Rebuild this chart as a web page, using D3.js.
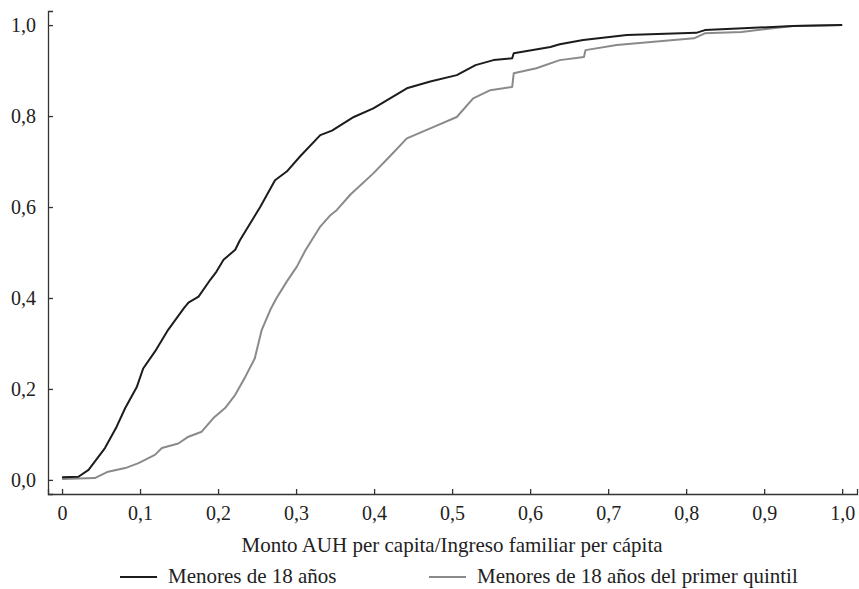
<!DOCTYPE html>
<html>
<head>
<meta charset="utf-8">
<script src="https://cdn.jsdelivr.net/npm/d3@7"></script>
<style>
  body { margin: 0; background: #fff; }
  svg text { font-family: "Liberation Serif", "Times New Roman", serif; fill: #222; }
</style>
</head>
<body>
<svg id="chart" width="859" height="589"></svg>
<script>
// curva de distribución acumulada: [monto AUH / ingreso, proporción acumulada]
const menores = [
  [0, 0.006], [0.021, 0.007], [0.034, 0.022], [0.055, 0.07], [0.07, 0.117],
  [0.081, 0.158], [0.096, 0.205], [0.104, 0.245], [0.119, 0.282], [0.136, 0.33],
  [0.156, 0.377], [0.162, 0.39], [0.175, 0.403], [0.19, 0.44], [0.198, 0.458],
  [0.207, 0.484], [0.222, 0.506], [0.228, 0.527], [0.254, 0.60], [0.273, 0.659],
  [0.288, 0.678], [0.305, 0.711], [0.331, 0.758], [0.346, 0.768], [0.374, 0.798],
  [0.399, 0.817], [0.442, 0.861], [0.472, 0.876], [0.506, 0.89], [0.53, 0.912],
  [0.553, 0.923], [0.577, 0.927], [0.579, 0.938], [0.626, 0.952], [0.638, 0.958],
  [0.668, 0.967], [0.724, 0.978], [0.813, 0.983], [0.824, 0.989], [0.873, 0.993],
  [0.937, 0.998], [1.0, 1.0]
];

const primerQuintil = [
  [0, 0.002], [0.042, 0.004], [0.059, 0.018], [0.081, 0.026], [0.098, 0.037],
  [0.119, 0.055], [0.128, 0.07], [0.149, 0.08], [0.162, 0.095], [0.179, 0.106],
  [0.194, 0.136], [0.209, 0.158], [0.222, 0.187], [0.235, 0.227], [0.247, 0.267],
  [0.256, 0.33], [0.267, 0.374], [0.275, 0.40], [0.288, 0.436], [0.301, 0.469],
  [0.312, 0.505], [0.331, 0.557], [0.344, 0.582], [0.352, 0.593], [0.370, 0.628],
  [0.399, 0.674], [0.42, 0.711], [0.442, 0.751], [0.472, 0.773], [0.506, 0.798],
  [0.527, 0.839], [0.549, 0.857], [0.577, 0.864], [0.579, 0.894], [0.608, 0.905],
  [0.638, 0.923], [0.669, 0.93], [0.671, 0.945], [0.711, 0.956], [0.81, 0.971],
  [0.824, 0.982], [0.871, 0.985], [0.937, 0.998], [1.0, 1.0]
];

const xTicks = [0, 0.1, 0.2, 0.3, 0.4, 0.5, 0.6, 0.7, 0.8, 0.9, 1.0];
const yTicks = [0, 0.2, 0.4, 0.6, 0.8, 1.0];
const series = [
  { name: "Menores de 18 años", values: menores, color: "#1c1c1c" },
  { name: "Menores de 18 años del primer quintil", values: primerQuintil, color: "#8a8a8a" }
];
const xTitle = "Monto AUH per capita/Ingreso familiar per cápita";

const svg = d3.select("#chart");
const tickSize = 20, labelSize = 21;

const locale = d3.formatLocale({ decimal: ",", thousands: ".", grouping: [3], currency: ["$", ""] });
const fmt = locale.format(".1f");

// escalas (el dominio va un poco más allá de 0 y 1, como en el original)
const x = d3.scaleLinear().domain([-0.018, 1.019]).range([48, 857]);
const y = d3.scaleLinear().domain([-0.031, 1.031]).range([494, 11]);

// ejes con marcas hacia adentro
const axisX = d3.axisBottom(x).tickValues(xTicks)
  .tickSizeInner(-5).tickSizeOuter(-5).tickPadding(12)
  .tickFormat(d => d === 0 ? "0" : fmt(d));
const axisY = d3.axisLeft(y).tickValues(yTicks)
  .tickSizeInner(-5).tickSizeOuter(-5).tickPadding(12)
  .tickFormat(fmt);

const gx = svg.append("g").attr("transform", `translate(0, ${y.range()[0]})`).call(axisX);
const gy = svg.append("g").attr("transform", `translate(${x.range()[0]}, 0)`).call(axisY);

[gx, gy].forEach(g => {
  g.selectAll("path, line").attr("stroke", "#333").attr("stroke-width", 1.3);
  g.selectAll("text").attr("font-size", tickSize).attr("font-family", null).attr("fill", "#222");
});

// curvas
const line = d3.line().x(d => x(d[0])).y(d => y(d[1]));
series.slice().reverse().forEach(s => {
  svg.append("path")
    .datum(s.values)
    .attr("d", line)
    .attr("fill", "none")
    .attr("stroke", s.color)
    .attr("stroke-width", 2)
    .attr("stroke-linejoin", "round");
});

// título eje X
svg.append("text")
  .attr("x", (x(0) + x(1)) / 2)
  .attr("y", 552)
  .attr("text-anchor", "middle")
  .attr("font-size", labelSize)
  .text(xTitle);

// leyenda
const legendPos = [120, 429];
series.forEach((s, i) => {
  const g = svg.append("g").attr("transform", `translate(${legendPos[i]}, 577)`);
  g.append("line").attr("x1", 0).attr("x2", 37).attr("y1", 0).attr("y2", 0)
    .attr("stroke", s.color).attr("stroke-width", 2);
  g.append("text").attr("x", 48).attr("y", 6).attr("font-size", labelSize).text(s.name);
});
</script>
</body>
</html>
